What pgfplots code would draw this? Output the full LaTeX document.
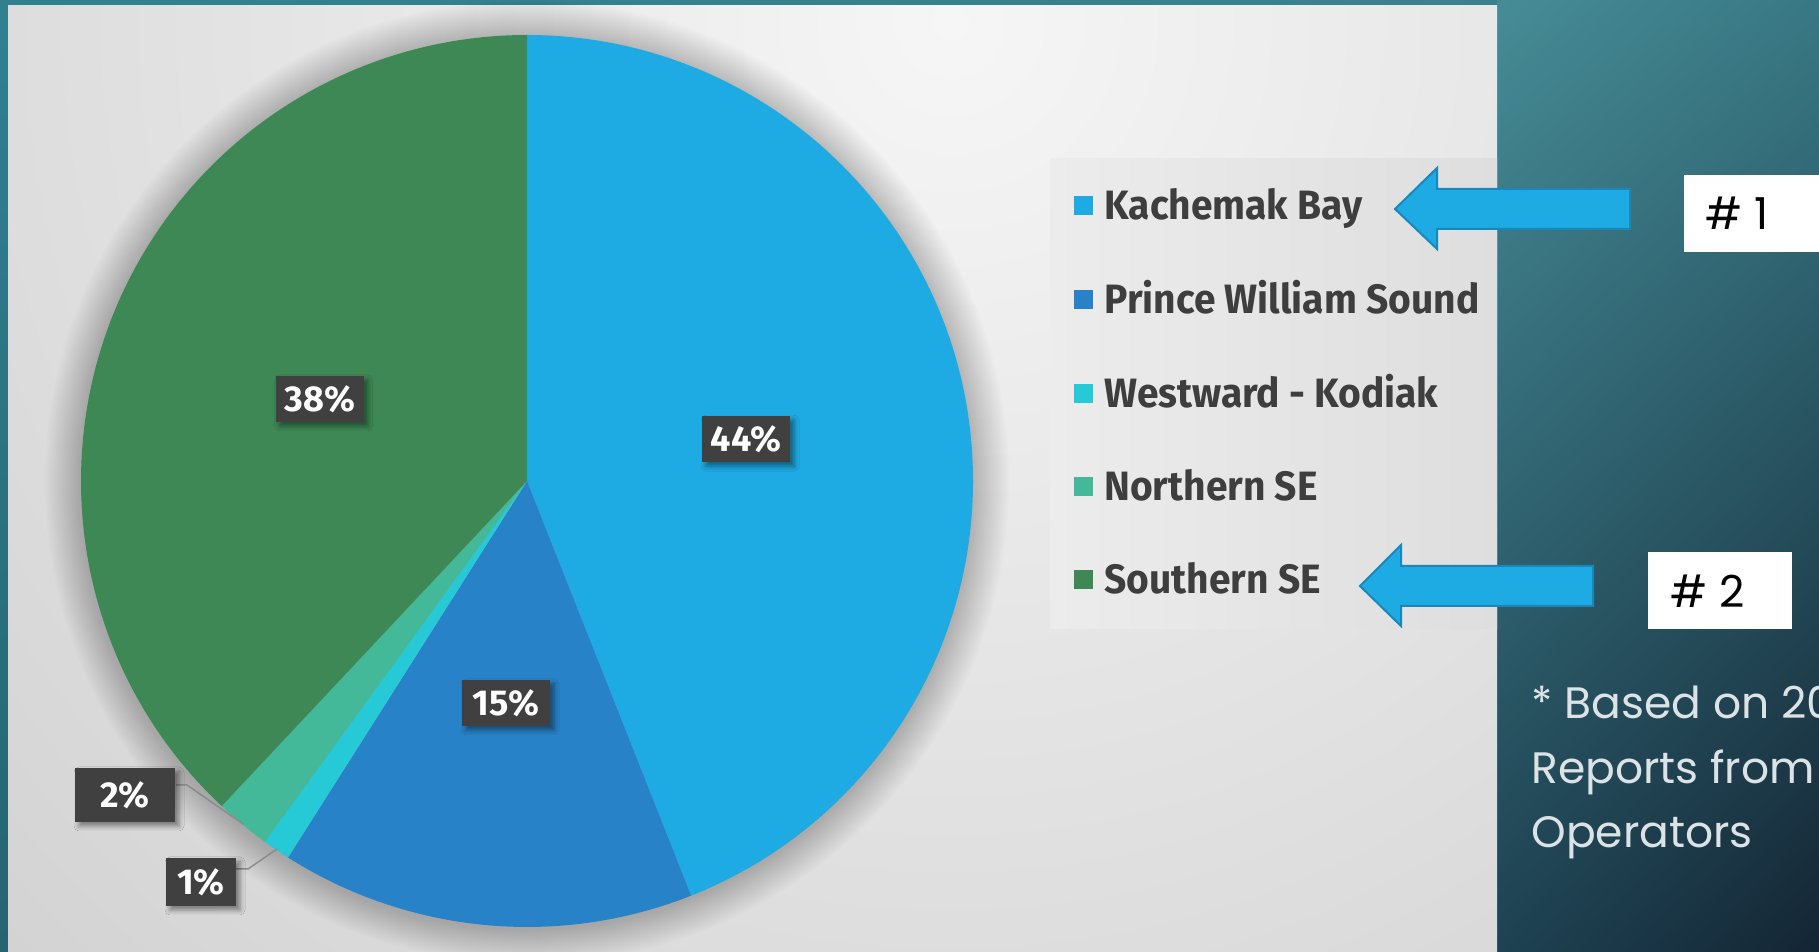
\documentclass[border=0pt]{standalone}
\usepackage{pgfplots}
\pgfplotsset{compat=1.18}
\usepackage{fontspec}
\usetikzlibrary{shadings,shadows.blur}
\setmainfont{Fira Sans}
\newfontfamily\condf[FakeStretch=0.95]{Fira Sans}
\newfontfamily\lblf{Fira Sans}
\newfontfamily\geo{Poppins}
\definecolor{kb}{HTML}{1EABE3}
\definecolor{pws}{HTML}{2882C8}
\definecolor{wk}{HTML}{26C9D6}
\definecolor{nse}{HTML}{44B999}
\definecolor{sse}{HTML}{3D8855}
\definecolor{lbl}{HTML}{404040}
\definecolor{legtxt}{HTML}{3E3E3E}
\definecolor{slide}{HTML}{30818F}
\definecolor{foot}{HTML}{DCE3E6}
\definecolor{arrowline}{HTML}{1A86BA}
\definecolor{bgout}{HTML}{C9C9C9}
\definecolor{bgin}{HTML}{F6F6F6}
\definecolor{legL}{HTML}{ECECEC}
\definecolor{legR}{HTML}{DEDEDE}
% slice: start (percent), value (percent), colour
\newcommand\slice[3]{\fill[#3] (axis cs:527,471) -- ++({90-3.6*#1}:223pt)
  arc[start angle={90-3.6*#1}, end angle={90-3.6*(#1+#2)}, radius=223pt] -- cycle;}
\newcommand\plabel[3]{\path (axis cs:527,471) ++({90-3.6*(#1+#2/2)}:111.5pt)
  node[fill=lbl, text=white, minimum width=44pt, minimum height=23pt, inner sep=0pt,
  blur shadow={shadow xshift=2pt, shadow yshift=-2pt, shadow blur radius=2.5pt, shadow opacity=45}]
  {\lblf\bfseries\fontsize{18pt}{20pt}\selectfont #3};}
\begin{document}
\begin{tikzpicture}
\begin{scope}[x=0.5pt,y=0.5pt]
  % slide background
  \shade[upper left=slide, upper right={rgb,255:red,60;green,130;blue,142}, lower left={rgb,255:red,38;green,100;blue,114}, lower right={rgb,255:red,20;green,40;blue,55}] (0,0) rectangle (1819,952);
  % right panel
  \shade[upper left={rgb,255:red,70;green,140;blue,150}, upper right={rgb,255:red,56;green,120;blue,132}, lower left={rgb,255:red,30;green,66;blue,82}, lower right={rgb,255:red,20;green,37;blue,52}] (1497,0) rectangle (1819,952);
  % chart area
  \begin{scope}
    \clip (8,0) rectangle (1497,946);
    \fill[bgout] (8,0) rectangle (1497,946);
    \shade[inner color=bgin, outer color=bgout] (950,930) circle (1700);
  \end{scope}
  % legend box
  \shade[left color=legL, right color=legR] (1050,323) rectangle (1497,793);
  % legend entries
  \foreach \yy/\cc/\tt in {746/kb/Kachemak Bay, 652/pws/Prince William Sound, 558/wk/Westward - Kodiak, 465/nse/Northern SE, 372/sse/Southern SE}{
    \fill[\cc] (1074,\yy-9.5) rectangle (1093,\yy+9.5);
    \node[anchor=base west, inner sep=0pt, text=legtxt] at (1104,\yy-14) {\condf\bfseries\fontsize{20.5pt}{24pt}\selectfont \tt};
  }
  % arrows
  \filldraw[fill=kb, draw=arrowline, line width=1pt, line join=miter] (1395,743) -- (1437,784) -- (1437,763) -- (1630,763) -- (1630,723) -- (1437,723) -- (1437,703) -- cycle;
  \filldraw[fill=kb, draw=arrowline, line width=1pt, line join=miter] (1360,366) -- (1401,407) -- (1401,386) -- (1593,386) -- (1593,346) -- (1401,346) -- (1401,326) -- cycle;
  % boxes
  \fill[white] (1684,700) rectangle (1840,777);
  \node[anchor=west, inner sep=0pt] at (1705,739) {\geo\fontsize{22pt}{24pt}\selectfont \# 1};
  \fill[white] (1648,323) rectangle (1792,400);
  \node[anchor=west, inner sep=0pt] at (1670,361) {\geo\fontsize{22pt}{24pt}\selectfont \# 2};
  % footnote
  \node[anchor=base west, inner sep=0pt, text=foot] at (1531,233) {\geo\fontsize{22pt}{26pt}\selectfont * Based on 20};
  \node[anchor=base west, inner sep=0pt, text=foot] at (1531,168) {\geo\fontsize{22pt}{26pt}\selectfont Reports from};
  \node[anchor=base west, inner sep=0pt, text=foot] at (1531,104) {\geo\fontsize{22pt}{26pt}\selectfont Operators};
\end{scope}
\begin{axis}[at={(0,0)}, anchor=south west, scale only axis, width=909.5pt, height=476pt,
  xmin=0, xmax=1819, ymin=0, ymax=952, hide axis, clip=false]
  % soft halo round the pie
  \pgfplotsinvokeforeach{1,2,...,18}{
    \fill[black, opacity=0.013] (axis cs:527,470) circle[radius={223pt+#1pt}];
  }
  \slice{0}{44}{kb}
  \slice{44}{15}{pws}
  \slice{59}{1}{wk}
  \slice{60}{2}{nse}
  \slice{62}{38}{sse}
  \plabel{0}{44}{44\%}
  \plabel{44}{15}{15\%}
  \plabel{62}{38}{38\%}
  % small slices: labels outside with leader lines
  \draw[black!45, line width=0.75pt] (axis cs:176,167) -- (axis cs:187,167) -- (axis cs:243,128);
  \draw[black!45, line width=0.75pt] (axis cs:236,83) -- (axis cs:248,83) -- (axis cs:277,103);
  \node[fill=lbl, text=white, minimum width=50pt, minimum height=27pt, inner sep=0pt,
    blur shadow={shadow xshift=2pt, shadow yshift=-2pt, shadow blur radius=2.5pt, shadow opacity=45}]
    at (axis cs:125,157) {\lblf\bfseries\fontsize{18pt}{20pt}\selectfont 2\%};
  \node[fill=lbl, text=white, minimum width=35pt, minimum height=24pt, inner sep=0pt,
    blur shadow={shadow xshift=2pt, shadow yshift=-2pt, shadow blur radius=2.5pt, shadow opacity=45}]
    at (axis cs:201,70) {\lblf\bfseries\fontsize{18pt}{20pt}\selectfont 1\%};
\end{axis}
\pgfresetboundingbox
\path[use as bounding box] (0,0) rectangle (909.5pt,476pt);
\end{tikzpicture}
\end{document}
